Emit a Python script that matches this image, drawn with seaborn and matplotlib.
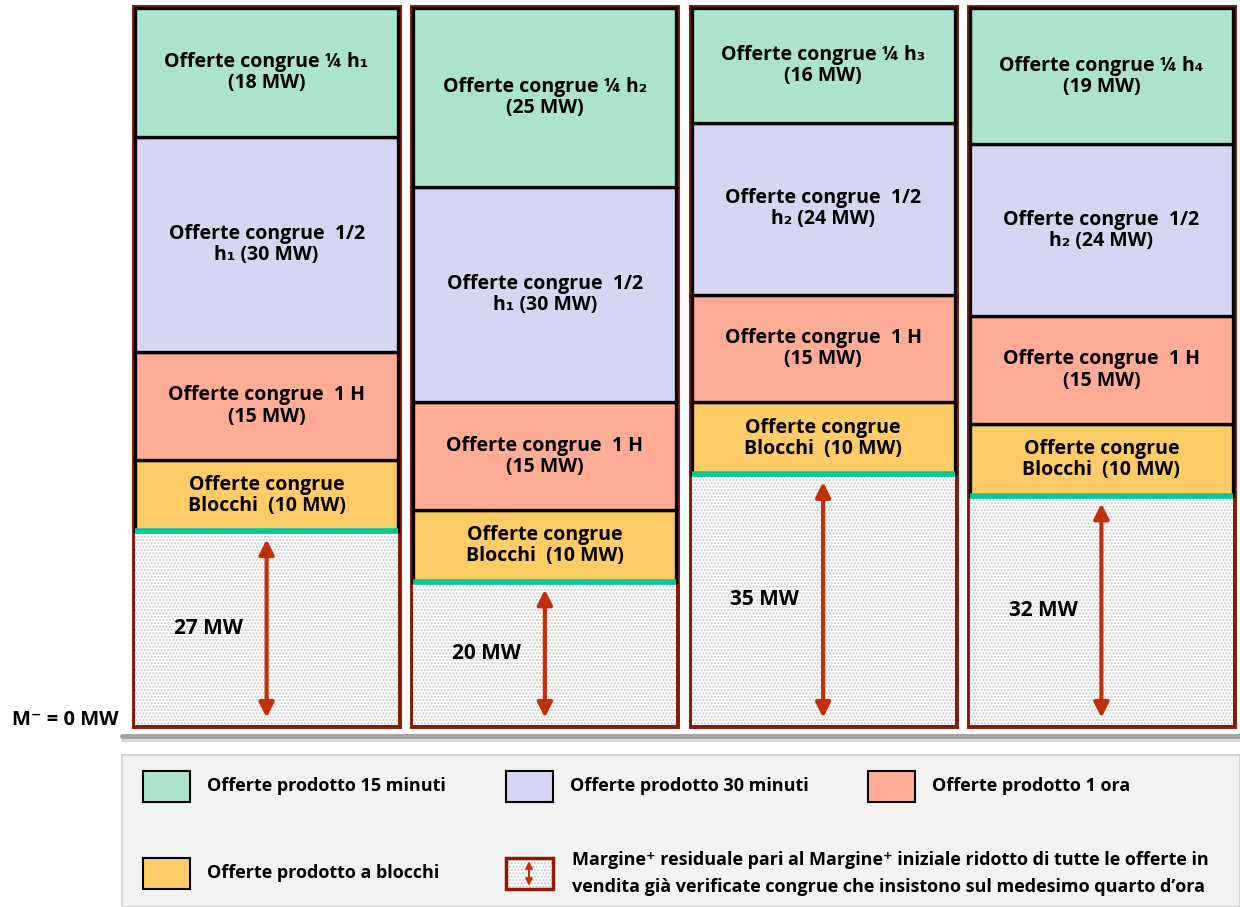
import numpy as np
import pandas as pd
import matplotlib.pyplot as plt
import seaborn as sns
from matplotlib.patches import Rectangle
from matplotlib.lines import Line2D

# dati (MW) per i quattro quarti d'ora
colonne = ["h1", "h2", "h3", "h4"]
margine = [27, 20, 35, 32]
blocchi = [10, 10, 10, 10]
un_ora = [15, 15, 15, 15]
mezz_ora = [30, 30, 24, 24]
quarto = [18, 25, 16, 19]

pedice_quarto = ["₁", "₂", "₃", "₄"]
pedice_mezz = ["₁", "₁", "₂", "₂"]

etichette_legenda = ["Offerte prodotto 15 minuti", "Offerte prodotto 30 minuti",
                     "Offerte prodotto 1 ora", "Offerte prodotto a blocchi"]

c_verde = "#ABE3CB"
c_lilla = "#D6D6F2"
c_salmone = "#FEAC96"
c_arancio = "#FECC66"
c_rosso = "#8B1A0A"
c_freccia = "#C0300A"
c_linea = "#00C896"

sns.set_theme(style="white")
plt.rcParams['font.family'] = ['Open Sans', 'DejaVu Sans']
plt.rcParams['text.color'] = 'black'

fig = plt.figure(figsize=(12.4, 9.07), dpi=100)
ax = fig.add_axes([135 / 1240, 1 - 725 / 907, (1233 - 135) / 1240, (725 - 8) / 907])

w = 0.946
x = np.arange(len(colonne))
totale = np.array(margine) + np.array(blocchi) + np.array(un_ora) + np.array(mezz_ora) + np.array(quarto)

# bordo rosso delle colonne
sns.barplot(x=colonne, y=totale, color=c_rosso, fill=False, saturation=1,
            width=w, linewidth=5, errorbar=None, ax=ax, zorder=1)

# margine residuo (puntinato)
sns.barplot(x=colonne, y=margine, color="white", saturation=1, width=w,
            hatch=".....", edgecolor="#C8C8C8", linewidth=0, errorbar=None, ax=ax, zorder=2)

# offerte impilate
base = np.array(margine, dtype=float)
strati = [(blocchi, c_arancio), (un_ora, c_salmone), (mezz_ora, c_lilla), (quarto, c_verde)]
for valori, col in strati:
    ax.bar(x, valori, bottom=base, width=w, color=col, edgecolor="black", linewidth=2.4, zorder=3)
    base = base + np.array(valori)

ax.hlines(margine, x - w / 2, x + w / 2, colors=c_linea, linewidth=4, zorder=4)

fs = 14
ls = 1.08
for i in range(len(colonne)):
    m = margine[i]
    ax.annotate("", xy=(i, 1.0), xytext=(i, m - 1.1),
                arrowprops=dict(arrowstyle="<|-|>", color=c_freccia, lw=3,
                                mutation_scale=22, shrinkA=0, shrinkB=0), zorder=5)
    ax.text(i - 0.21, m / 2, f"{m} MW", ha="center", va="center", fontsize=15, fontweight="bold")

    b = m
    ax.text(i, b + blocchi[i] / 2, f"Offerte congrue\nBlocchi  ({blocchi[i]} MW)",
            ha="center", va="center", fontsize=fs, fontweight="bold", linespacing=ls, zorder=6)
    b += blocchi[i]
    ax.text(i, b + un_ora[i] / 2, f"Offerte congrue  1 H\n({un_ora[i]} MW)",
            ha="center", va="center", fontsize=fs, fontweight="bold", linespacing=ls, zorder=6)
    b += un_ora[i]
    ax.text(i, b + mezz_ora[i] / 2, f"Offerte congrue  1/2\nh{pedice_mezz[i]} ({mezz_ora[i]} MW)",
            ha="center", va="center", fontsize=fs, fontweight="bold", linespacing=ls, zorder=6)
    b += mezz_ora[i]
    ax.text(i, b + quarto[i] / 2, f"Offerte congrue ¼ h{pedice_quarto[i]}\n({quarto[i]} MW)",
            ha="center", va="center", fontsize=fs, fontweight="bold", linespacing=ls, zorder=6)

ax.set_xlim(-w / 2, len(colonne) - 1 + w / 2)
ax.set_ylim(0, 100)
for p in ax.patches:
    p.set_clip_on(False)
ax.axis("off")

# etichette a sinistra
fig.text(12 / 1240, 1 - 720 / 907, "M⁻ = 0 MW", ha="left", va="center", fontsize=14.5, fontweight="bold")
fig.text(12 / 1240, 1 + 6 / 907, "M⁺ = 100 MW", ha="left", va="center", fontsize=14.5, fontweight="bold")

# linea di base grigia
fig.add_artist(Line2D([122 / 1240, 1], [1 - 736 / 907] * 2, color="#A0A0A0", lw=3.5))
fig.add_artist(Line2D([122 / 1240, 1], [1 - 740 / 907] * 2, color="#D4D4D4", lw=2))

# legenda
lg = fig.add_axes([122 / 1240, 0, 1 - 122 / 1240, (907 - 755) / 907])
lg.set_facecolor("#F2F2F2")
for s in lg.spines.values():
    s.set_color("#D0D0D0")
lg.set_xticks([])
lg.set_yticks([])
lg.set_xlim(122, 1240)
lg.set_ylim(907, 755)

fl = 13
pos = [(143, 786), (506, 786), (868, 786), (143, 873)]
colori = [c_verde, c_lilla, c_salmone, c_arancio]
for (px, py), col, lab in zip(pos, colori, etichette_legenda):
    lg.add_patch(Rectangle((px, py - 15), 47, 31, facecolor=col, edgecolor="black", lw=1.5))
    lg.text(px + 64, py, lab, ha="left", va="center", fontsize=fl, fontweight="bold")

lg.add_patch(Rectangle((506, 858), 47, 31, facecolor="white", hatch=".....",
                       edgecolor="#C8C8C8", lw=0))
lg.add_patch(Rectangle((506, 858), 47, 31, facecolor="none", edgecolor=c_rosso, lw=2.5))
lg.annotate("", xy=(529, 886), xytext=(529, 861),
            arrowprops=dict(arrowstyle="<|-|>", color=c_freccia, lw=1.5,
                            mutation_scale=10, shrinkA=0, shrinkB=0))
lg.text(572, 860, "Margine⁺ residuale pari al Margine⁺ iniziale ridotto di tutte le offerte in",
        ha="left", va="center", fontsize=fl, fontweight="bold")
lg.text(572, 887, "vendita già verificate congrue che insistono sul medesimo quarto d’ora",
        ha="left", va="center", fontsize=fl, fontweight="bold")

fig.savefig("out.png", dpi=100)
